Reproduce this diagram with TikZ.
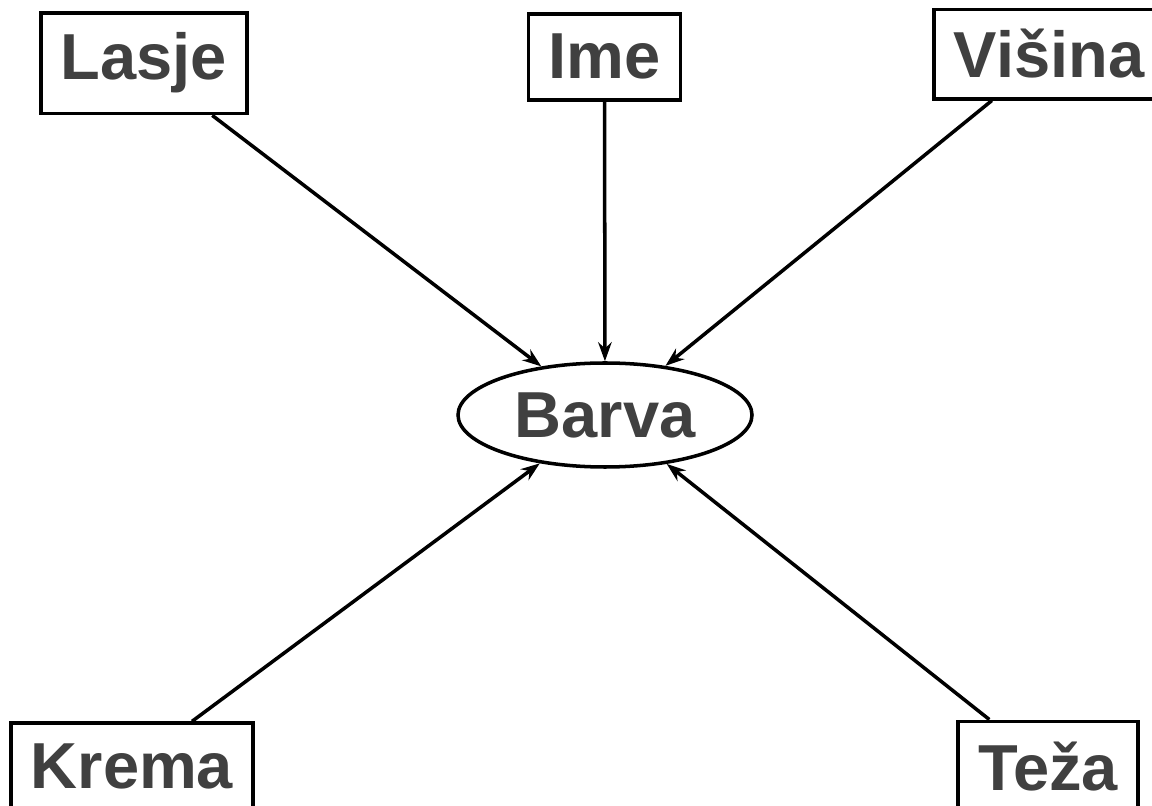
\documentclass[tikz,border=0pt]{standalone}
\usepackage{fontspec}
\setmainfont{Liberation Sans}
\usetikzlibrary{shapes.geometric,arrows.meta}
\definecolor{txtgray}{HTML}{404040}
\begin{document}
\begin{tikzpicture}[
   attr/.style={draw, line width=2.2pt, inner sep=0.4cm, anchor=base,
                text=txtgray, font=\fontsize{37}{44}\selectfont\bfseries},
   cls/.style={draw, ellipse, line width=2pt, inner sep=0pt,
               minimum width=5.88cm, minimum height=2.08cm,
               text=txtgray, font=\fontsize{37}{44}\selectfont\bfseries},
   link/.style={line width=2pt, -{Stealth[length=0.38cm, width=0.27cm]}}]

\useasboundingbox (0,0) rectangle (23.04,-16.12);

\node[cls] (barva) at (12.10,-8.30) {Barva};

\node[attr] (lasje)  at (2.88,-1.60)   {Lasje};
\node[attr] (ime)    at (12.09,-1.58)  {Ime};
\node[attr] (visina) at (20.98,-1.56)  {Višina};
\node[attr] (krema)  at (2.64,-15.76)  {Krema};
\node[attr] (teza)   at (20.96,-15.80) {Teža};

\foreach \n in {lasje,ime,visina,krema,teza}
    \draw[link] (\n) -- (barva);

\end{tikzpicture}
\end{document}
